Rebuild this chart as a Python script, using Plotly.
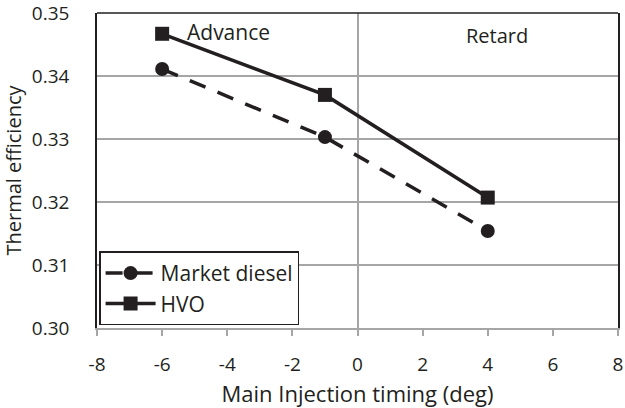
import plotly.graph_objects as go

timing = [-6, -1, 4]
market_diesel = [0.3411, 0.3303, 0.3154]
hvo = [0.3467, 0.3370, 0.3207]
x_ticks = [-8, -6, -4, -2, 0, 2, 4, 6, 8]
x_tick_labels = ["-8", "-6", "-4", "-2", "0", "2", "4", "6", "8"]
y_ticks = [0.30, 0.31, 0.32, 0.33, 0.34, 0.35]
y_tick_labels = ["0.30", "0.31", "0.32", "0.33", "0.34", "0.35"]

FONT = "Open Sans"
INK = "#231f20"
GRID = "#a6a6a6"

fig = go.Figure()
fig.add_trace(go.Scatter(
    x=timing, y=market_diesel, name="Market diesel", mode="lines+markers",
    line=dict(color=INK, width=3.5, dash="17px,13px"),
    marker=dict(symbol="circle", size=14, color=INK),
))
fig.add_trace(go.Scatter(
    x=timing, y=hvo, name="HVO", mode="lines+markers",
    line=dict(color=INK, width=3.5),
    marker=dict(symbol="square", size=14, color=INK),
))

fig.update_layout(
    width=625, height=408,
    margin=dict(l=97, r=7, t=13, b=80),
    paper_bgcolor="white", plot_bgcolor="white",
    font=dict(family=FONT, size=19, color=INK),
    showlegend=True,
    legend=dict(x=0.004, y=0.243, xanchor="left", yanchor="top",
                bordercolor=INK, borderwidth=1.5, bgcolor="white",
                font=dict(size=21), itemwidth=50, tracegroupgap=4),
    xaxis=dict(range=[-8, 8], tickvals=x_ticks, ticktext=x_tick_labels,
               showgrid=False, automargin=False,
               zeroline=True, zerolinecolor=GRID, zerolinewidth=2,
               showline=True, linecolor=GRID, linewidth=2,
               ticks="outside", ticklen=6, tickcolor=GRID, tickwidth=1.5,
               ticklabeloverflow="allow", ticklabelstandoff=12,
               title=dict(text="Main Injection timing (deg)", font=dict(size=22)),
               tickfont=dict(size=19)),
    yaxis=dict(range=[0.30, 0.35], tickvals=y_ticks, ticktext=y_tick_labels,
               showgrid=True, gridcolor=GRID, gridwidth=2, zeroline=False,
               automargin=False, ticklabeloverflow="allow",
               showline=True, linecolor=INK, linewidth=1.5, mirror=True,
               ticks="", ticklabelstandoff=22,
               title=dict(text="Thermal efficiency", font=dict(size=20)),
               tickfont=dict(size=19)),
    annotations=[
        dict(x=-3.95, y=0.347, xref="x", yref="y", text="Advance", showarrow=False,
             font=dict(size=21)),
        dict(x=4.28, y=0.3464, xref="x", yref="y", text="Retard", showarrow=False,
             font=dict(size=20)),
    ],
    shapes=[dict(type="line", xref="paper", yref="paper", x0=0, x1=1, y0=1, y1=1,
                 line=dict(color=INK, width=1.5))],
)
fig.write_html("out.html", config={"displayModeBar": False},
               post_script="document.body.style.margin='0';document.body.style.overflow='hidden';")
